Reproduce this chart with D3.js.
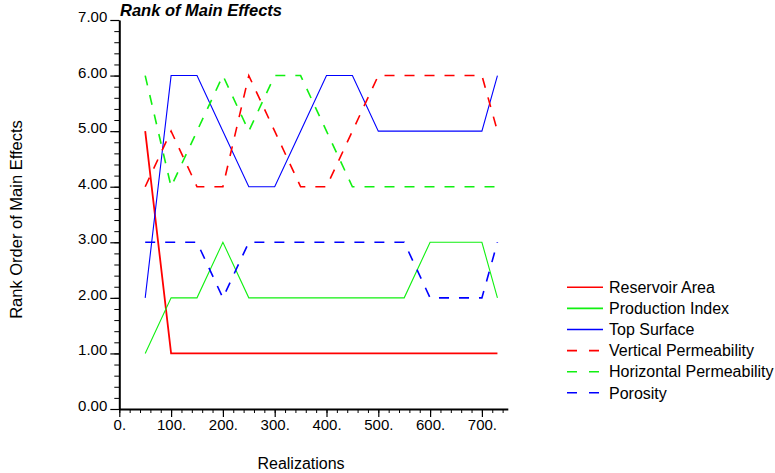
<!DOCTYPE html>
<html>
<head>
<meta charset="utf-8">
<script src="https://cdn.jsdelivr.net/npm/d3@7"></script>
<style>
  body { margin: 0; background: #fff; }
  svg { display: block; font-family: "Liberation Sans", Arial, sans-serif; }
</style>
</head>
<body>
<svg id="chart" width="775" height="473"></svg>
<script>
// values
const realizations = [50, 100, 150, 200, 250, 300, 350, 400, 450, 500, 550, 600, 650, 700, 730];
const reservoirArea = [5, 1, 1, 1, 1, 1, 1, 1, 1, 1, 1, 1, 1, 1, 1];
const productionIndex = [1, 2, 2, 3, 2, 2, 2, 2, 2, 2, 2, 3, 3, 3, 2];
const topSurface = [2, 6, 6, 5, 4, 4, 5, 6, 6, 5, 5, 5, 5, 5, 6];
const verticalPerm = [4, 5, 4, 4, 6, 5, 4, 4, 5, 6, 6, 6, 6, 6, 5];
const horizontalPerm = [6, 4, 5, 6, 5, 6, 6, 5, 4, 4, 4, 4, 4, 4, 4];
const porosity = [3, 3, 3, 2, 3, 3, 3, 3, 3, 3, 3, 2, 2, 2, 3];

const seriesNames = ["Reservoir Area", "Production Index", "Top Surface",
    "Vertical Permeability", "Horizontal Permeability", "Porosity"];
const seriesValues = [reservoirArea, productionIndex, topSurface, verticalPerm, horizontalPerm, porosity];
const seriesColors = ["#ff0000", "#11f011", "#0000ff", "#ff0000", "#11f011", "#0000ff"];
const seriesDashed = [false, false, false, true, true, true];

const xMajorTicks = [0, 100, 200, 300, 400, 500, 600, 700];
const yMajorTicks = [0, 1, 2, 3, 4, 5, 6, 7];

const svg = d3.select("#chart");

const x = d3.scaleLinear().domain([0, 750]).range([119.3, 507.8]);
const y = d3.scaleLinear().domain([0, 7]).range([409, 20]);

const series = seriesNames.map((name, i) => ({
    name: name,
    color: seriesColors[i],
    dashed: seriesDashed[i],
    points: realizations.map((r, j) => ({x: r, y: seriesValues[i][j]}))
}));

const line = d3.line()
    .x(d => x(d.x))
    .y(d => y(d.y));

// lines
svg.append("g")
    .attr("fill", "none")
    .selectAll("path")
    .data(series)
    .join("path")
    .attr("stroke", d => d.color)
    .attr("stroke-width", d => d.name === "Reservoir Area" ? 1.8 : (d.dashed ? 1.6 : 1.1))
    .attr("stroke-dasharray", d => d.dashed ? "10,10" : null)
    .attr("d", d => line(d.points));

// x axis: minor then major ticks
svg.append("g")
    .attr("transform", `translate(0,${y(0)})`)
    .call(d3.axisBottom(x).tickValues(d3.range(0, 741, 20)).tickSize(4).tickSizeOuter(0).tickFormat(""))
    .call(g => g.select(".domain").remove());

const xAxis = svg.append("g")
    .attr("transform", `translate(0,${y(0)})`)
    .call(d3.axisBottom(x).tickValues(xMajorTicks).tickSize(8).tickSizeOuter(0).tickFormat(d => d + "."));
xAxis.select(".domain").attr("stroke-width", 2);
xAxis.selectAll(".tick line").attr("stroke-width", 1.2);
xAxis.selectAll("text")
    .attr("font-size", 15)
    .attr("font-family", "Liberation Sans, Arial, sans-serif")
    .attr("fill", "#000")
    .attr("y", 10)
    .attr("dy", "0.71em");

// y axis: minor then major ticks
svg.append("g")
    .attr("transform", `translate(${x(0)},0)`)
    .call(d3.axisLeft(y).tickValues(d3.range(0, 7.01, 0.2)).tickSize(5).tickSizeOuter(0).tickFormat(""))
    .call(g => g.select(".domain").remove());

const yAxis = svg.append("g")
    .attr("transform", `translate(${x(0)},0)`)
    .call(d3.axisLeft(y).tickValues(yMajorTicks).tickSize(9).tickSizeOuter(0).tickFormat(d3.format(".2f")));
yAxis.select(".domain").attr("stroke-width", 2);
yAxis.selectAll(".tick line").attr("stroke-width", 1.2);
yAxis.selectAll("text")
    .attr("font-size", 15)
    .attr("font-family", "Liberation Sans, Arial, sans-serif")
    .attr("fill", "#000")
    .attr("x", -12)
    .attr("dy", "0.1em");

// titles
svg.append("text")
    .attr("x", 120)
    .attr("y", 16)
    .attr("font-size", 16.5)
    .attr("font-weight", "bold")
    .attr("font-style", "italic")
    .text("Rank of Main Effects");

svg.append("text")
    .attr("x", 301)
    .attr("y", 469)
    .attr("text-anchor", "middle")
    .attr("font-size", 16)
    .text("Realizations");

svg.append("text")
    .attr("transform", `translate(22,${(y(0) + y(7)) / 2 + 5}) rotate(-90)`)
    .attr("text-anchor", "middle")
    .attr("font-size", 16.5)
    .text("Rank Order of Main Effects");

// legend
const legend = svg.append("g")
    .selectAll("g")
    .data(series)
    .join("g")
    .attr("transform", (d, i) => `translate(567,${287.3 + i * 21.1})`);

legend.append("line")
    .attr("x1", 0)
    .attr("x2", d => d.dashed ? 32 : 36)
    .attr("stroke", d => d.color)
    .attr("stroke-width", 1.6)
    .attr("stroke-dasharray", d => d.dashed ? "10,12" : null);

legend.append("text")
    .attr("x", 42)
    .attr("dy", "0.36em")
    .attr("font-size", 16)
    .text(d => d.name);
</script>
</body>
</html>
